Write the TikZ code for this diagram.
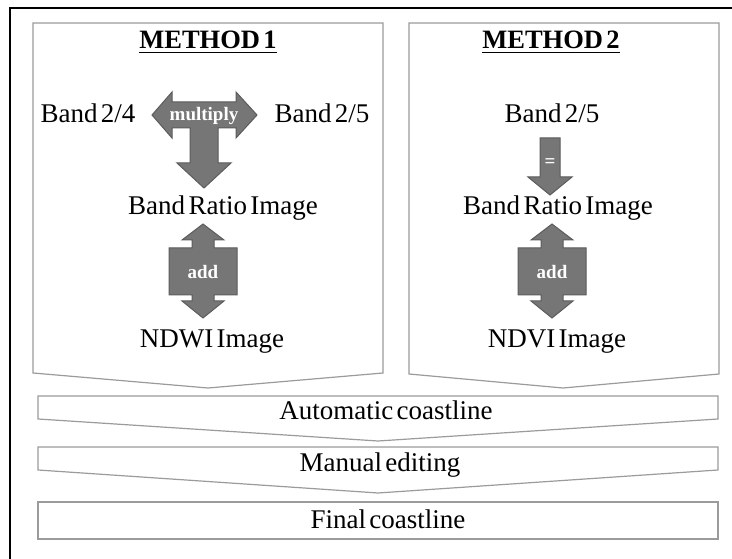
\documentclass[tikz,border=0pt]{standalone}
\usepackage{fontspec}
\setmainfont{Liberation Serif}[WordSpace=0.5]
\definecolor{panelgray}{RGB}{155,155,155}
\definecolor{arrowgray}{RGB}{118,118,118}
\definecolor{arrowline}{RGB}{92,92,92}
\tikzset{
	panel/.style={draw=panelgray, line width=1.2pt, fill=white},
	fatarrow/.style={fill=arrowgray, draw=arrowline, line width=1pt},
	txt/.style={font=\fontsize{27}{31}\selectfont, inner sep=0pt, anchor=base},
	methodtitle/.style={font=\fontsize{26.5}{31}\selectfont\bfseries, inner sep=0pt, anchor=base},
	oplabel/.style={font=\fontsize{19}{22}\selectfont\bfseries, text=white, inner sep=0pt, anchor=base}
}
\begin{document}
\begin{tikzpicture}[x=1pt,y=-1pt]
		\useasboundingbox (0,0) rectangle (732,559);
		\draw [line width=1.5pt] (10,559) -- (10,8) -- (732,8);
		\draw [panel] (33,23) -- (383,23) -- (383,373) -- (208,388) -- (33,373) -- cycle;
		\draw [panel] (409,23) -- (719,23) -- (719,374) -- (563,388) -- (409,374) -- cycle;
		\draw [panel] (38,396) -- (718,396) -- (718,419) -- (378,441) -- (38,419) -- cycle;
		\draw [panel] (38,447) -- (718,447) -- (718,470) -- (378,493) -- (38,470) -- cycle;
		\draw [panel] (38,502) rectangle (718,539);
		\node [methodtitle] (title1) at (208,49) {METHOD 1};
		\node [methodtitle] (title2) at (551,49) {METHOD 2};
		\draw [line width=1.8pt] ([yshift=-3.5pt]title1.base west) -- ([yshift=-3.5pt]title1.base east);
		\draw [line width=1.8pt] ([yshift=-3.5pt]title2.base west) -- ([yshift=-3.5pt]title2.base east);
		\node [txt] (bandA) at (88,123) {Band 2/4};
		\node [txt] (bandB) at (322,123) {Band 2/5};
		\node [txt] (ratio1) at (223,215) {Band Ratio Image};
		\node [txt] (ndwi) at (212,347) {NDWI Image};
		\node [txt] (bandC) at (552,123) {Band 2/5};
		\node [txt] (ratio2) at (558,215) {Band Ratio Image};
		\node [txt] (ndvi) at (557,347) {NDVI Image};
		\draw [fatarrow] (152,115) -- (172,92) -- (172,102) -- (236,102) -- (236,92) -- (257,115) -- (236,138) -- (236,128) -- (218,128) -- (218,163) -- (231,163) -- (204,188) -- (177,163) -- (190,163) -- (190,128) -- (172,128) -- (172,138) -- cycle;
		\node [oplabel] (multiply) at (204,121) {multiply};
		\draw [fatarrow] (540,138) -- (560,138) -- (560,177) -- (572,177) -- (550,195) -- (528,177) -- (540,177) -- cycle;
		\node [oplabel] (equal) at (550,168) {=};
		\foreach \cx in {203,552}{
			\draw [fatarrow] (\cx,224) -- (\cx+21,240) -- (\cx+11,240) -- (\cx+11,248) -- (\cx+34,248) -- (\cx+34,295) -- (\cx+11,295) -- (\cx+11,301) -- (\cx+21,301) -- (\cx,318) -- (\cx-21,301) -- (\cx-11,301) -- (\cx-11,295) -- (\cx-34,295) -- (\cx-34,248) -- (\cx-11,248) -- (\cx-11,240) -- (\cx-21,240) -- cycle;
			\node [oplabel] (add-\cx) at (\cx,279) {add};
		}
		\node [txt] (auto) at (386,419) {Automatic coastline};
		\node [txt] (manual) at (380,471) {Manual editing};
		\node [txt] (final) at (388,528) {Final coastline};
\end{tikzpicture}
\end{document}
